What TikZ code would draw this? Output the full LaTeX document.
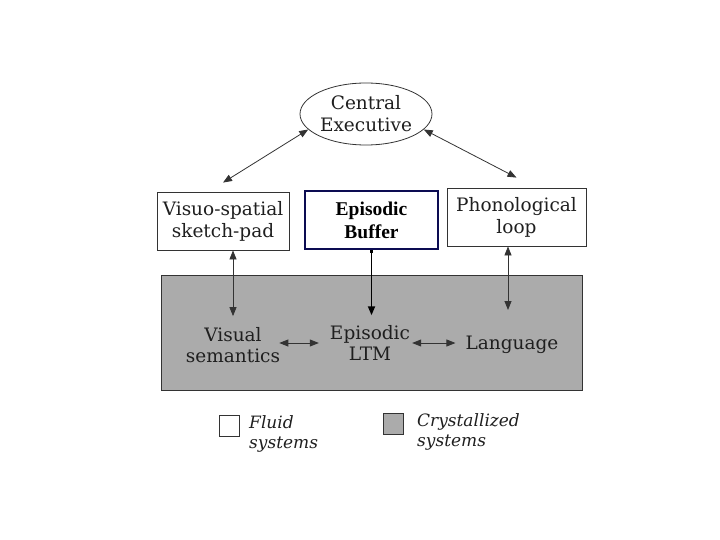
\documentclass[tikz,border=0pt]{standalone}
\usepackage{fontspec}
\setmainfont{DejaVu Serif}
\newfontfamily\bufferfont{Liberation Serif}[BoldFont={Liberation Serif Bold}]
\usetikzlibrary{arrows.meta,shapes.geometric}
\definecolor{buffernavy}{RGB}{12,12,82}
\tikzset{
  fluid/.style={draw=black!80, line width=0.8pt, fill=white, align=center, font=\fontsize{18.5}{22}\selectfont, text=black!88, inner sep=0pt},
  store/.style={draw=black!80, line width=0.8pt, fill=black!33, inner sep=0pt},
  inside/.style={align=center, font=\fontsize{18.5}{21}\selectfont, text=black!88, inner sep=1pt},
  keytext/.style={align=left, font=\fontsize{17}{20}\selectfont\itshape, text=black!88, inner sep=0pt},
  link/.style={<->, line width=0.8pt, draw=black!80},
}

\begin{document}
\begin{tikzpicture}[x=1pt,y=-1pt,>={Triangle[length=9pt,width=7pt]}]
  %%%%% START %%%%%
  \useasboundingbox (0,0) rectangle (720,540);

  \node[fluid, ellipse, minimum width=132pt, minimum height=62pt] (ce) at (366,114) {Central\\Executive};

  \node[fluid, minimum width=132pt, minimum height=58pt] (vssp) at (223,221) {Visuo-spatial\\sketch-pad};
  \node[fluid, draw=buffernavy, line width=2.5pt, minimum width=133pt, minimum height=58pt, font=\bufferfont\bfseries\fontsize{19.5}{23}\selectfont, text=black] (buffer) at (371.5,220) {Episodic\\Buffer};
  \node[fluid, minimum width=139pt, minimum height=58pt] (phon) at (516.5,217) {Phonological\\loop};

  \node[store, minimum width=421pt, minimum height=115pt] (ltm) at (371.5,332.5) {};
  \node[inside] (vis) at (233,345) {Visual\\semantics};
  \node[inside] (epi) at (370,343) {Episodic\\LTM};
  \node[inside] (lang) at (512,345) {Language};

  \draw[link] (ce.195) -- ([yshift=9pt]vssp.north);
  \draw[link] (ce.345) -- ([yshift=10pt]phon.north);

  \draw[link, shorten >=10pt] (vis.north |- vssp.south) -- (vis.north);
  \draw[line width=1.8pt, {Square[length=3pt,width=3pt]}-{Triangle[length=9pt,width=7pt]}, shorten >=9pt] (buffer.south) -- (epi.north -| buffer.south);
  \draw[link, shorten >=25pt] ([xshift=-4pt]lang.north |- phon.south) -- ([xshift=-4pt]lang.north);

  \draw[link, shorten <=-2pt, shorten >=10pt] (vis.east |- epi.west) -- (epi.west);
  \draw[link, shorten <=1pt, shorten >=9pt] (epi.east) -- (epi.east -| lang.west);

  % key
  \node[fluid, minimum width=20pt, minimum height=21pt] (fluidkey) at (229,426) {};
  \node[keytext, anchor=west] (fluidtxt) at (249,434) {Fluid\\systems};
  \node[store, minimum width=20pt, minimum height=21pt] (crystkey) at (393,423.5) {};
  \node[keytext, anchor=west] (crysttxt) at (417,432) {Crystallized\\systems};
  %%%%% END %%%%%
\end{tikzpicture}
\end{document}
